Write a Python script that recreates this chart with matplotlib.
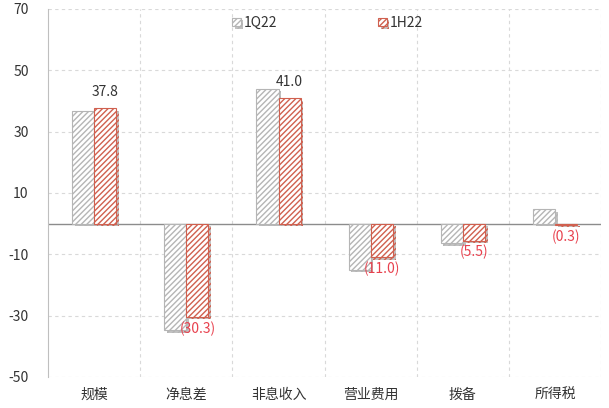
import matplotlib
matplotlib.use("Agg")
import matplotlib.pyplot as plt
import matplotlib.patheffects as pe
import numpy as np

plt.rcParams['font.family'] = ['Noto Sans CJK SC', 'DejaVu Sans']
plt.rcParams['hatch.linewidth'] = 1.0
plt.rcParams['axes.unicode_minus'] = False

categories = ['规模', '净息差', '非息收入', '营业费用', '拨备', '所得税']
q1_22 = [36.8, -34.7, 44.0, -15.0, -6.3, 4.8]
h1_22 = [37.8, -30.3, 41.0, -11.0, -5.5, -0.3]
labels = ['37.8', '(30.3)', '41.0', '(11.0)', '(5.5)', '(0.3)']
yticks = [70, 50, 30, 10, -10, -30, -50]

fig = plt.figure(figsize=(6.09, 4.08), dpi=100)
ax = fig.add_axes([0.079, 0.076, 0.908, 0.902])

x = np.arange(len(categories))
w = 0.24
shadow = [pe.SimplePatchShadow(offset=(2, -2), shadow_rgbFace='#a8a8a8', alpha=0.7), pe.Normal()]

b1 = ax.bar(x - w / 2, q1_22, w, color='white', edgecolor='#b5b5b5', hatch='//////',
            linewidth=0.8, label='1Q22', zorder=3, path_effects=shadow)
b2 = ax.bar(x + w / 2, h1_22, w, color='white', edgecolor='#d0604f', hatch='//////',
            linewidth=0.8, label='1H22', zorder=3, path_effects=shadow)

# value labels on the 1H22 bars
for i, v in enumerate(h1_22):
    if v >= 0:
        ax.text(x[i] + w / 2, v + 3.0, labels[i], ha='center', va='bottom',
                fontsize=10, color='#333333', zorder=4)
    else:
        ax.text(x[i] + w / 2, v - 1.5, labels[i], ha='center', va='top',
                fontsize=10, color='#e8414e', zorder=4)

ax.set_xlim(-0.5, len(categories) - 0.5)
ax.set_ylim(-50, 70)
ax.set_yticks(yticks)
ax.set_xticks(x)
ax.set_xticklabels(categories, fontsize=10, color='#333333')
ax.tick_params(axis='y', labelsize=10, colors='#333333', length=0, pad=14)
ax.tick_params(axis='x', length=0, pad=8)

# dashed grid
for yv in yticks:
    ax.axhline(yv, color='#d9d9d9', linestyle=(0, (3, 3)), linewidth=0.8, zorder=1)
for xv in np.arange(0.5, len(categories), 1.0):
    ax.axvline(xv, color='#d9d9d9', linestyle=(0, (3, 3)), linewidth=0.8, zorder=1)
ax.axhline(0, color='#8c8c8c', linewidth=1.0, zorder=2)

for s in ['top', 'right', 'bottom']:
    ax.spines[s].set_visible(False)
ax.spines['left'].set_color('#bfbfbf')
ax.spines['left'].set_linewidth(0.8)

leg = ax.legend(loc='upper center', bbox_to_anchor=(0.505, 1.015), ncol=2, frameon=False,
                fontsize=10, handlelength=0.6, handleheight=0.6, handletextpad=0.2,
                columnspacing=7.3)
for t in leg.get_texts():
    t.set_color('#333333')

fig.savefig('out.png', dpi=100)
